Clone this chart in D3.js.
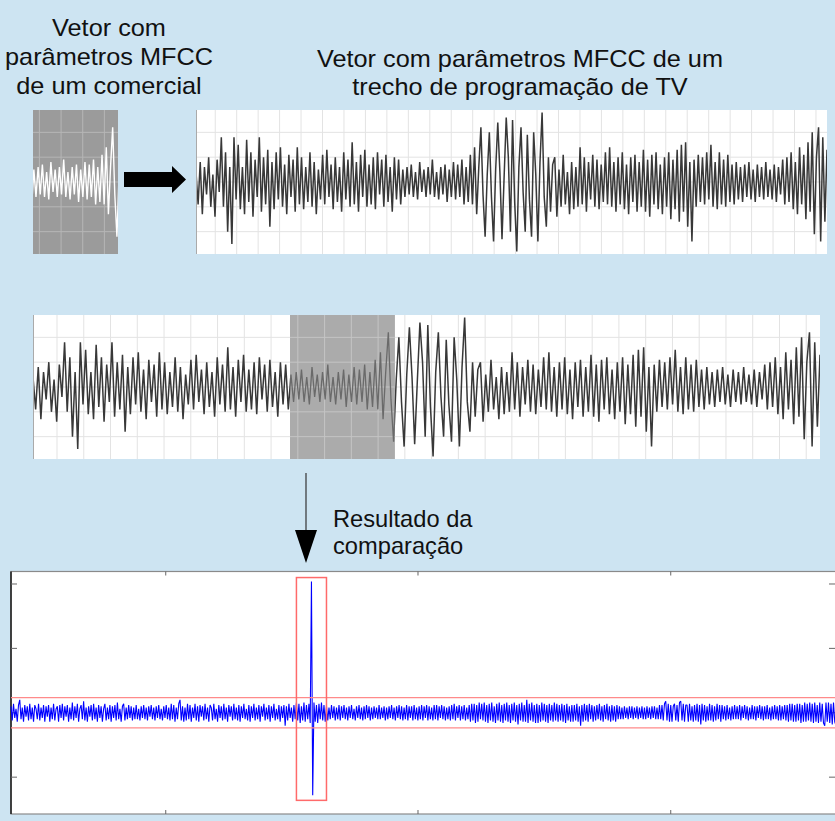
<!DOCTYPE html>
<html>
<head>
<meta charset="utf-8">
<script src="https://cdn.jsdelivr.net/npm/d3@7"></script>
<style>
  body { margin: 0; background: #cde4f2; }
  svg { display: block; font-family: "Liberation Sans", Arial, sans-serif; }
</style>
</head>
<body>
<div id="vis"></div>
<script>
const W = 835, H = 821;

// MFCC vector of the TV programme excerpt, one value per frame
const mfcc = [
  0.4, -0.9, 0.8, -1.3, 0.6, -0.5, 1.0, -1.0, 0.3, -1.4,
  0.9, -0.4, 1.8, -1.0, 1.2, -2.0, 0.6, -2.5, 1.8, -0.7,
  1.5, -1.1, 0.6, -1.3, 1.7, -0.8, 1.2, -1.4, 0.9, -0.6,
  1.8, -1.2, 1.0, -0.9, 1.3, -1.8, 0.8, -1.1, 1.2, -0.7,
  1.4, -1.0, 0.7, -1.3, 1.1, -0.6, 0.9, -1.2, 1.4, -0.9,
  1.0, -1.1, 0.6, -0.8, 1.2, -1.0, 0.8, -1.3, 0.5, -0.7,
  1.1, -0.9, 1.3, -0.6, 0.7, -1.1, 1.0, -0.8, 0.6, -1.2,
  1.2, -0.7, 0.9, -1.0, 1.6, -0.9, 0.8, -1.2, 1.1, -0.6,
  1.3, -1.0, 0.7, -0.9, 1.0, -1.1, 1.2, -0.5, 0.9, -1.0,
  1.1, -0.8, 0.6, -1.2, 1.0, -0.7, 0.9, -0.9, 0.5, -0.6,
  0.6, -0.5, 0.7, -0.6, 0.4, -0.7, 0.8, -0.4, 0.5, -0.6,
  0.6, -0.5, 0.9, -0.6, 0.4, -0.7, 0.6, -0.5, 0.7, -0.8,
  0.5, -0.6, 0.8, -0.7, 0.7, -0.6, 0.9, -0.9, 0.6, -0.8,
  1.1, -0.9, 1.4, -1.3, 0.6, 2.2, -0.5, -2.2, 0.3, 2.0,
  -0.6, -2.4, 0.5, 2.4, 0.4, -2.3, 0.2, 2.6, 1.0, -2.0,
  2.5, -0.8, -2.8, 0.6, 2.2, -0.4, -2.0, 1.9, -0.7, -2.2,
  2.0, 0.3, -2.4, 0.8, 2.8, -0.6, -1.8, 1.0, -1.2, 0.7,
  1.0, -1.4, 0.5, -1.0, 1.1, -0.9, 0.4, -1.3, 0.8, -1.1,
  0.6, -1.0, 1.4, -0.9, 1.0, -1.2, 0.8, -0.7, 1.1, -1.0,
  0.9, -1.1, 0.7, -0.8, 1.2, -0.9, 1.4, -1.0, 0.8, -1.2,
  1.0, -0.9, 1.2, -1.1, 0.7, -1.3, 1.0, -0.8, 1.1, -1.2,
  0.8, -1.0, 1.3, -1.2, 0.9, -1.4, 1.1, -0.9, 1.2, -1.1,
  0.7, -1.3, 1.0, -1.0, 1.2, -1.5, 0.9, -1.1, 1.3, -1.6,
  1.5, -1.2, 1.6, -1.8, 0.8, -2.4, 0.9, -1.0, 1.1, -0.8,
  1.0, -0.9, 1.2, -0.7, 1.5, -1.0, 0.8, -1.1, 1.2, -0.9,
  0.9, -1.0, 1.1, -0.8, 0.7, -0.9, 0.8, -0.7, 0.6, -0.8,
  0.7, -0.6, 0.8, -0.7, 0.5, -0.8, 0.7, -0.6, 0.6, -0.7,
  0.8, -0.6, 0.5, -0.7, 0.7, -0.8, 0.6, -0.5, 0.9, -0.9,
  1.0, -0.8, 1.2, -1.1, 0.8, -1.3, 1.4, -0.9, 1.1, -1.5,
  1.6, -1.2, 2.0, -2.1, 1.0, 2.2, -2.4, 1.8, -1.6, 1.3
];

// frames of the excerpt that hold the commercial
const commercial = [97.6, 137.5];

// grid of the MFCC plots (in frames)
const gridFrames = d3.range(29).map(k => (0.0305 + k * 0.034) * (mfcc.length - 1));
const gridLevels = [-2, -1, 0, 1, 2];

// comparison result (x100), one value per position of the commercial
const corr = [
  5, -6, 7, -4, 3, -7, 6, 10, -5, 4,
  -7, 6, -3, 5, -6, 7, -5, 4, -7, 6,
  3, -5, 7, -6, 4, -4, 6, -7, 5, -3,
  6, -7, 4, -5, 7, -6, 3, 5, -7, 6,
  -4, 7, -6, 5, -3, 6, -7, 4, -5, 8,
  -6, 5, -4, 7, -7, 3, 6, -5, 9, -6,
  4, -7, 5, -3, 6, -6, 7, -5, 4, -7,
  6, -4, 5, -7, 3, 7, -6, 4, -5, 6,
  -7, 5, -4, 6, -6, 8, -5, 3, -7, 5,
  7, -6, 4, -5, 6, -4, 5, -6, 4, -5,
  6, -5, 3, -6, 5, -4, 6, -5, 4, -6,
  5, -3, 6, -5, 4, -6, 5, -4, 6, -5,
  3, -6, 5, -4, 6, -5, 4, -6, 7, -5,
  6, -7, 4, -5, 7, 10, -6, 5, -7, 4,
  -6, 7, -5, 6, -7, 4, -4, 7, -6, 5,
  -7, 6, -3, 5, -6, 7, -5, 4, -7, 6,
  4, -6, 7, -5, 3, -7, 6, -4, 5, -6,
  7, -5, 4, -7, 6, -3, 5, -6, 7, -5,
  4, -6, 6, -7, 5, -4, 7, -5, 3, -6,
  6, -7, 5, -4, 7, -6, 4, -5, 6, -7,
  5, -3, 7, -6, 4, -5, 6, -7, 5, -4,
  7, -6, 3, -5, 6, -7, 5, -4, 6, -10,
  5, -6, 7, -4, 4, -7, 6, -5, 8, -6,
  7, -8, 5, -6, 8, -7, 6, -5, 7, -8,
  102, -64, 8, -7, 6, -8, 7, -5, 8, -6,
  6, -7, 5, -6, 4, -5, 6, -4, 5, -6,
  4, -5, 6, -6, 5, -4, 6, -5, 4, -6,
  5, -4, 6, -5, 3, -6, 5, -4, 6, -5,
  4, -6, 5, -5, 6, -4, 5, -6, 4, -5,
  5, -4, 4, -5, 6, -5, 4, -4, 5, -6,
  4, -5, 5, -4, 6, -5, 4, -6, 5, -4,
  6, -5, 5, -6, 4, -5, 6, -6, 5, -4,
  5, -6, 6, -5, 4, -6, 5, -5, 6, -6,
  5, -4, 6, -6, 5, -5, 4, -6, 6, -5,
  6, -6, 5, -4, 6, -5, 5, -6, 4, -5,
  5, -6, 6, -5, 7, -6, 5, -4, 6, -6,
  5, -5, 6, -6, 4, -5, 6, -7, 7, -6,
  7, -8, 6, -7, 8, -5, 7, -6, 8, -7,
  6, -8, 7, -6, 8, -7, 5, -8, 7, -6,
  8, -7, 6, -8, 7, -6, 8, -7, 6, -8,
  7, -6, 8, -7, 6, -9, 7, -6, 8, -7,
  6, -7, 10, -8, 7, -6, 8, -7, 6, -8,
  7, -8, 6, -7, 8, -6, 7, -7, 6, -8,
  7, -6, 6, -7, 8, -6, 7, -7, 6, -6,
  7, -7, 6, -8, 7, -6, 5, -7, 6, -7,
  6, -6, 7, -7, 5, -10, 6, -7, 7, -6,
  6, -7, 7, -5, 6, -7, 5, -6, 6, -5,
  7, -6, 5, -7, 6, -5, 7, -6, 5, -7,
  6, -6, 5, -7, 6, -5, 5, -5, 4, -5,
  5, -4, 4, -5, 5, -4, 5, -5, 4, -4,
  5, -5, 4, -4, 5, -5, 4, -5, 5, -4,
  4, -5, 5, -4, 5, -5, 4, -5, 6, -5,
  6, -6, 7, 9, -6, 7, -7, 6, -7, 5,
  7, -6, 6, -7, 8, 9, -6, 7, -7, 6,
  6, -7, 7, -6, 5, -7, 6, -6, 7, -7,
  6, -9, 7, -6, 6, -7, 5, -6, 7, -6,
  6, -7, 5, -6, 7, -5, 6, -7, 6, -5,
  5, -6, 6, -5, 4, -6, 5, -5, 6, -5,
  5, -5, 6, -6, 5, -4, 6, -5, 5, -6,
  4, -5, 6, -5, 5, -6, 5, -4, 6, -5,
  5, -6, 5, -5, 6, -5, 4, -6, 5, -5,
  6, -5, 5, -6, 6, -6, 5, -5, 6, -6,
  6, -7, 7, -6, 7, -7, 6, -7, 7, -6,
  7, -8, 6, -7, 8, -7, 7, -6, 8, -7,
  7, -8, 8, -7, 6, -8, 8, -7, 7, -8,
  -10, 8, -7, 8, -8, 7, -9, 8, -7, -10
];
const corrTicksX = [123.6, 325.1, 527];
const corrTicksY = [-50, 0, 50, 100];
const threshold = [11.7, -11.7];
// where the commercial was found
const hit = { from: 228, to: 252, top: 105, bottom: -68 };

const titleCom = ['Vetor com', 'parâmetros MFCC', 'de um comercial'];
const titleProg = ['Vetor com parâmetros MFCC de um', 'trecho de programação de TV'];
const titleRes = ['Resultado da', 'comparação'];

const svg = d3.select('#vis')
  .append('svg')
  .attr('width', W)
  .attr('height', H);

svg.append('rect').attr('width', W).attr('height', H).attr('fill', '#cde4f2');

const defs = svg.append('defs');
let clipId = 0;

function clip(x0, y0, x1, y1) {
  const id = 'c' + (clipId++);
  defs.append('clipPath').attr('id', id)
    .append('rect').attr('x', x0).attr('y', y0).attr('width', x1 - x0).attr('height', y1 - y0);
  return `url(#${id})`;
}

// one MFCC plot: background, grid, signal
function mfccPanel(box, domain, bg, gridColor, lineColor, lineWidth) {
  const x = d3.scaleLinear().domain(domain).range([box.x0, box.x1]);
  const y = d3.scaleLinear().domain([-2.9, 2.9]).range([box.y1, box.y0]);
  const g = svg.append('g').attr('clip-path', clip(box.x0, box.y0, box.x1, box.y1));

  g.append('rect')
    .attr('x', box.x0).attr('y', box.y0)
    .attr('width', box.x1 - box.x0).attr('height', box.y1 - box.y0)
    .attr('fill', bg);

  g.selectAll('.vg')
    .data(gridFrames.filter(f => f > domain[0] && f < domain[1]))
    .join('line')
    .attr('x1', d => x(d)).attr('x2', d => x(d))
    .attr('y1', box.y0).attr('y2', box.y1)
    .attr('stroke', gridColor).attr('stroke-width', 1);

  g.selectAll('.hg')
    .data(gridLevels)
    .join('line')
    .attr('x1', box.x0).attr('x2', box.x1)
    .attr('y1', d => y(d)).attr('y2', d => y(d))
    .attr('stroke', gridColor).attr('stroke-width', 1);

  const line = d3.line().x((d, i) => x(i)).y(d => y(d));
  g.append('path')
    .datum(mfcc)
    .attr('d', line)
    .attr('fill', 'none')
    .attr('stroke', lineColor)
    .attr('stroke-width', lineWidth)
    .attr('stroke-linejoin', 'miter');

  return { x, y, g };
}

function texts(lines, x, y, anchor, sx, lh) {
  const g = svg.append('g').attr('transform', `translate(${x},${y}) scale(${sx},1)`);
  g.selectAll('text')
    .data(lines)
    .join('text')
    .attr('x', 0)
    .attr('y', (d, i) => i * lh)
    .attr('text-anchor', anchor)
    .attr('font-size', 23)
    .attr('fill', '#111')
    .text(d => d);
}

function init() {
  const n = mfcc.length - 1;

  // commercial (grey panel, white signal)
  mfccPanel({ x0: 33, x1: 118, y0: 110, y1: 254 }, commercial, '#9b9b9b', '#b6b6b6', '#ffffff', 1.4);

  // TV excerpt
  mfccPanel({ x0: 196, x1: 827, y0: 110, y1: 254 }, [0, n], '#ffffff', '#e3e3e3', '#383838', 1.5);
  svg.append('line').attr('x1', 196.5).attr('x2', 196.5).attr('y1', 110).attr('y2', 254)
    .attr('stroke', '#aaa');

  // TV excerpt with the commercial highlighted
  const mid = mfccPanel({ x0: 33, x1: 820, y0: 315, y1: 459 }, [0, n], '#ffffff', '#e3e3e3', '#383838', 1.5);
  svg.append('line').attr('x1', 33.5).attr('x2', 33.5).attr('y1', 315).attr('y2', 459)
    .attr('stroke', '#aaa');

  const hx0 = mid.x(commercial[0]), hx1 = mid.x(commercial[1]);
  const hg = svg.append('g').attr('clip-path', clip(hx0, 315, hx1, 459));
  hg.append('rect').attr('x', hx0).attr('y', 315).attr('width', hx1 - hx0).attr('height', 144)
    .attr('fill', '#ababab');
  hg.selectAll('line')
    .data(gridFrames)
    .join('line')
    .attr('x1', d => mid.x(d)).attr('x2', d => mid.x(d))
    .attr('y1', 315).attr('y2', 459)
    .attr('stroke', '#c4c4c4');
  hg.selectAll('.hl')
    .data(gridLevels)
    .join('line')
    .attr('x1', hx0).attr('x2', hx1)
    .attr('y1', d => mid.y(d)).attr('y2', d => mid.y(d))
    .attr('stroke', '#c4c4c4');
  hg.append('path')
    .datum(mfcc)
    .attr('d', d3.line().x((d, i) => mid.x(i)).y(d => mid.y(d)))
    .attr('fill', 'none')
    .attr('stroke', '#6a6a6a')
    .attr('stroke-width', 1.3);

  // block arrow commercial -> excerpt
  svg.append('path')
    .attr('d', 'M124,172 L172,172 L172,166 L186,179.5 L172,193 L172,187 L124,187 Z')
    .attr('fill', '#000');

  // down arrow
  svg.append('line').attr('x1', 306).attr('x2', 306).attr('y1', 473).attr('y2', 532)
    .attr('stroke', '#333').attr('stroke-width', 1.2);
  svg.append('path').attr('d', 'M295,530 L317,530 L306,563 Z').attr('fill', '#000');

  // comparison result
  const res = { x0: 11, x1: 836, y0: 571.5, y1: 814 };
  const xr = d3.scaleLinear().domain([0, corr.length - 1]).range([res.x0, res.x1]);
  const yr = d3.scaleLinear().domain([-78.6, 109.7]).range([res.y1, res.y0]);

  svg.append('rect')
    .attr('x', res.x0).attr('y', res.y0)
    .attr('width', res.x1 - res.x0).attr('height', res.y1 - res.y0)
    .attr('fill', '#fff').attr('stroke', '#8a8a8a').attr('stroke-width', 1.2);
  svg.append('line').attr('x1', res.x0).attr('x2', res.x0).attr('y1', res.y0).attr('y2', res.y1)
    .attr('stroke', '#222').attr('stroke-width', 1.6);

  const ticks = svg.append('g').attr('stroke', '#666').attr('stroke-width', 1);
  corrTicksX.forEach(t => {
    ticks.append('line').attr('x1', xr(t)).attr('x2', xr(t)).attr('y1', res.y0).attr('y2', res.y0 + 4);
    ticks.append('line').attr('x1', xr(t)).attr('x2', xr(t)).attr('y1', res.y1).attr('y2', res.y1 - 4);
  });
  corrTicksY.forEach(t => {
    ticks.append('line').attr('x1', res.x0).attr('x2', res.x0 + 6).attr('y1', yr(t)).attr('y2', yr(t));
    ticks.append('line').attr('x1', res.x1 - 7).attr('x2', res.x1).attr('y1', yr(t)).attr('y2', yr(t));
  });

  svg.append('path')
    .datum(corr)
    .attr('d', d3.line().x((d, i) => xr(i)).y(d => yr(d)))
    .attr('fill', 'none')
    .attr('stroke', '#0000ff')
    .attr('stroke-width', 1.1)
    .attr('stroke-linejoin', 'bevel');

  svg.selectAll('.thr')
    .data(threshold)
    .join('line')
    .attr('x1', res.x0).attr('x2', res.x1)
    .attr('y1', d => yr(d)).attr('y2', d => yr(d))
    .attr('stroke', '#ff8a8a').attr('stroke-width', 1.3);

  svg.append('rect')
    .attr('x', xr(hit.from)).attr('y', yr(hit.top))
    .attr('width', xr(hit.to) - xr(hit.from))
    .attr('height', yr(hit.bottom) - yr(hit.top))
    .attr('fill', 'none').attr('stroke', '#ff6a6a').attr('stroke-width', 1.5);

  texts(titleCom, 109, 36, 'middle', 1.1, 29);
  texts(titleProg, 520, 66.5, 'middle', 1.1, 28.5);
  texts(titleRes, 333, 527, 'start', 1.03, 27);
}

init();
</script>
</body>
</html>
